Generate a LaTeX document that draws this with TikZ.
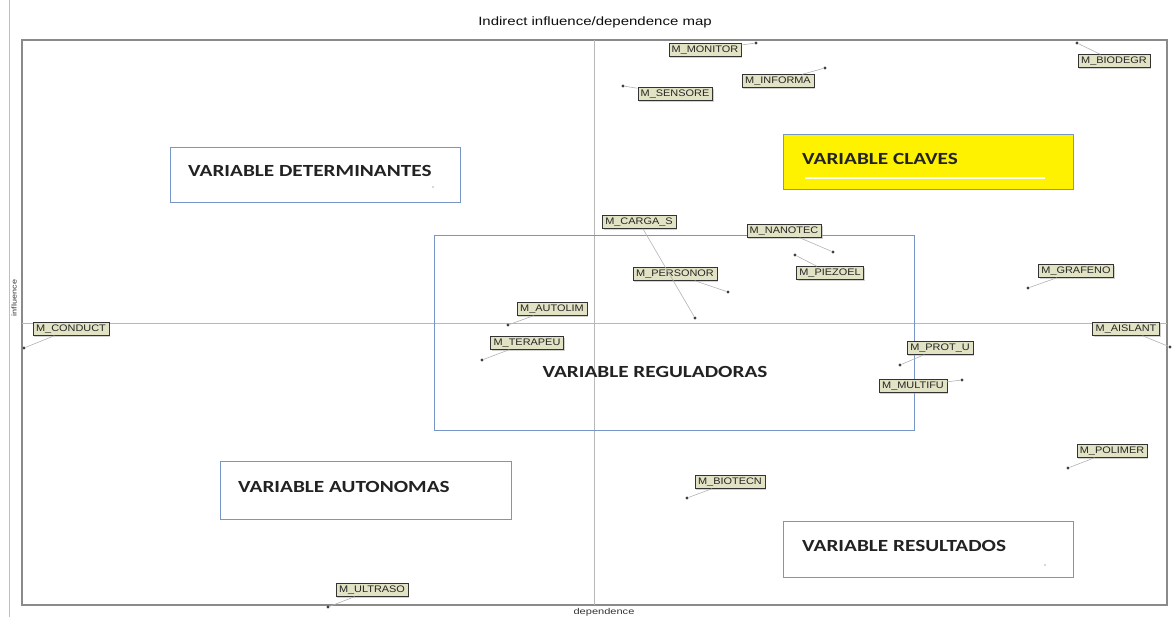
\documentclass[tikz,border=0pt]{standalone}
\usepackage{fontspec}
\setmainfont{Liberation Sans}
\newfontfamily\boxfont{Carlito}
\usetikzlibrary{shadows}
\definecolor{frameg}{HTML}{8A8A8A}
\definecolor{axisg}{HTML}{B8B8B8}
\definecolor{boxblue}{HTML}{7895C8}
\definecolor{khaki}{HTML}{E2E2C4}
\definecolor{txtdark}{HTML}{222222}
\newcommand{\wide}[2]{\scalebox{#1}[1]{#2}}
\tikzset{
  lbl/.style={draw=gray!40!black, fill=khaki, text=gray!30!black, font=\fontsize{9.5}{10}\selectfont,
    inner xsep=3pt, inner ysep=2pt, minimum height=13pt,
    drop shadow={shadow xshift=1.2pt, shadow yshift=-1.2pt, fill=gray!70}},
  pt/.style={circle, fill=gray!50!black, inner sep=0pt, minimum size=3.4pt},
  lnk/.style={draw=gray!60, line width=0.6pt},
  zone/.style={draw=boxblue, line width=1pt},
  zonetxt/.style={font=\boxfont\bfseries\fontsize{17}{19}\selectfont, text=txtdark, anchor=west, inner sep=0pt}
}
\begin{document}
\begin{tikzpicture}[x=1pt,y=-1pt]
\useasboundingbox (0,0) rectangle (1176,617);
% left border line
\draw[draw=gray!50, line width=0.8pt] (9,0) -- (9,617);
% title
\node[font=\fontsize{12}{14}\selectfont, text=gray!10!black] (title) at (595,22) {\wide{1.25}{Indirect influence/dependence map}};
% frame
\draw[draw=frameg, line width=1.3pt] (22,40) rectangle (1167,605);
% axes
\coordinate (vt) at (594,40);
\coordinate (vb) at (594,605);
\coordinate (hl) at (22,323);
\coordinate (hr) at (1167,323);
\draw[draw=axisg, line width=0.8pt] (vt) -- (vb);
\draw[draw=axisg, line width=0.8pt] (hl) -- (hr);
\node[font=\fontsize{8.5}{9}\selectfont, text=gray!40!black] (dep) at (604,612) {\wide{1.3}{dependence}};
\node[font=\fontsize{7}{8}\selectfont, text=gray!40!black, rotate=90] (inf) at (14,298) {\wide{1.3}{influence}};

% zones
\draw[zone] (170,148) rectangle (460,203);
\node[zonetxt] (zdet) at (188,171) {\wide{1.25}{VARIABLE DETERMINANTES}};
\fill[gray!60] (433,187) circle (0.8);
\draw[draw=boxblue, line width=1pt, fill=yellow] (783,135) rectangle (1073,190);
\node[zonetxt] (zcla) at (802,159) {\wide{1.25}{VARIABLE CLAVES}};
\draw[white, line width=2pt] (805,178) -- (1045,178);
\draw[zone] (434,236) rectangle (914,431);
\node[zonetxt, anchor=center] (zreg) at (655,372) {\wide{1.25}{VARIABLE REGULADORAS}};
\draw[zone] (220,462) rectangle (511,519);
\node[zonetxt] (zaut) at (238,487) {\wide{1.25}{VARIABLE AUTONOMAS}};
\draw[zone] (783,521) rectangle (1073,577);
\node[zonetxt] (zres) at (802,546) {\wide{1.25}{VARIABLE RESULTADOS}};
\fill[gray!60] (1045,565) circle (0.8);

% points
\node[pt] (p1) at (756,43) {};
\node[pt] (p2) at (1077,43) {};
\node[pt] (p3) at (623,86) {};
\node[pt] (p4) at (825,68) {};
\node[pt] (p5) at (695,318) {};
\node[pt] (p6) at (833,252) {};
\node[pt] (p7) at (795,255) {};
\node[pt] (p8) at (728,292) {};
\node[pt] (p9) at (1028,288) {};
\node[pt] (p10) at (508,325) {};
\node[pt] (p11) at (24,348) {};
\node[pt] (p12) at (482,360) {};
\node[pt] (p13) at (1170,347) {};
\node[pt] (p14) at (900,365) {};
\node[pt] (p15) at (962,380) {};
\node[pt] (p16) at (1068,468) {};
\node[pt] (p17) at (687,498) {};
\node[pt] (p18) at (328,607) {};

% labels
\node[lbl] (l1) at (705,50) {\wide{1.15}{M\_MONITOR}};
\node[lbl] (l2) at (1114,61) {\wide{1.15}{M\_BIODEGR}};
\node[lbl] (l3) at (675,94) {\wide{1.15}{M\_SENSORE}};
\node[lbl] (l4) at (778,81) {\wide{1.15}{M\_INFORMA}};
\node[lbl] (l5) at (639,222) {\wide{1.15}{M\_CARGA\_S}};
\node[lbl] (l6) at (784,231) {\wide{1.15}{M\_NANOTEC}};
\node[lbl] (l7) at (830,273) {\wide{1.15}{M\_PIEZOEL}};
\node[lbl] (l8) at (675,274) {\wide{1.15}{M\_PERSONOR}};
\node[lbl] (l9) at (1076,271) {\wide{1.15}{M\_GRAFENO}};
\node[lbl] (l10) at (552,309) {\wide{1.15}{M\_AUTOLIM}};
\node[lbl] (l11) at (71,329) {\wide{1.15}{M\_CONDUCT}};
\node[lbl] (l12) at (527,343) {\wide{1.15}{M\_TERAPEU}};
\node[lbl] (l13) at (1126,329) {\wide{1.15}{M\_AISLANT}};
\node[lbl] (l14) at (940,348) {\wide{1.15}{M\_PROT\_U}};
\node[lbl] (l15) at (913,386) {\wide{1.15}{M\_MULTIFU}};
\node[lbl] (l16) at (1112,451) {\wide{1.15}{M\_POLIMER}};
\node[lbl] (l17) at (730,482) {\wide{1.15}{M\_BIOTECN}};
\node[lbl] (l18) at (372,590) {\wide{1.15}{M\_ULTRASO}};

% links
\foreach \i in {1,...,18} { \draw[lnk] (p\i) -- (l\i); }
\end{tikzpicture}
\end{document}
